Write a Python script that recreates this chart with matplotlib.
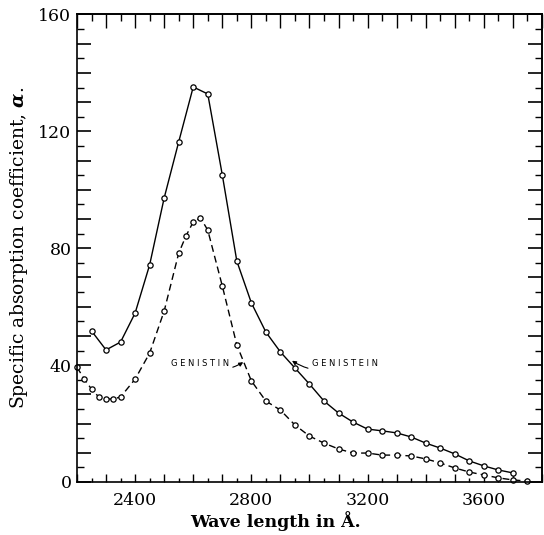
import numpy as np
import matplotlib
matplotlib.use("Agg")
import matplotlib.pyplot as plt
from matplotlib.ticker import FixedLocator, FuncFormatter

# wave length (Angstrom) and specific absorption coefficient
genistein_wl = [2250, 2300, 2350, 2400, 2450, 2500, 2550, 2600, 2650, 2700,
                2750, 2800, 2850, 2900, 2950, 3000, 3050, 3100, 3150, 3200,
                3250, 3300, 3350, 3400, 3450, 3500, 3550, 3600, 3650, 3700]
genistein_a = [51.7, 45.2, 47.9, 57.8, 74.3, 97.2, 116.4, 135.2, 132.8, 105.1,
               75.6, 61.3, 51.3, 44.5, 39.0, 33.5, 27.7, 23.6, 20.5, 18.1,
               17.5, 16.8, 15.4, 13.3, 11.6, 9.6, 7.2, 5.5, 4.1, 3.1]

genistin_wl = [2200, 2225, 2250, 2275, 2300, 2325, 2350, 2400, 2450, 2500,
               2550, 2575, 2600, 2625, 2650, 2700, 2750, 2800, 2850, 2900,
               2950, 3000, 3050, 3100, 3150, 3200, 3250, 3300, 3350, 3400,
               3450, 3500, 3550, 3600, 3650, 3700, 3750]
genistin_a = [39.3, 35.2, 31.8, 29.1, 28.4, 28.4, 29.1, 35.2, 44.1, 58.5,
              78.3, 84.2, 89.0, 90.4, 86.2, 67.1, 46.9, 34.6, 27.7, 24.6,
              19.5, 15.7, 13.3, 11.3, 9.9, 9.9, 9.2, 9.2, 8.9, 7.9,
              6.5, 4.8, 3.4, 2.4, 1.4, 0.7, 0.3]

x_labels = [2400, 2800, 3200, 3600]
y_labels = [0, 40, 80, 120, 160]

plt.rcParams["font.family"] = "DejaVu Serif"
plt.rcParams["mathtext.fontset"] = "dejavuserif"

fig = plt.figure(figsize=(5.44, 5.35), dpi=100)
ax = fig.add_axes([0.1415, 0.0991, 0.8548, 0.8738])

mk = dict(marker="o", ms=3.8, mfc="white", mec="black", mew=0.9, color="black")
ax.plot(genistein_wl, genistein_a, lw=1.0, clip_on=False, **mk)
ax.plot(genistin_wl, genistin_a, lw=1.0, ls=(0, (5, 3)), clip_on=False, **mk)

ax.set_xlim(2200, 3800)
ax.set_ylim(0, 160)

x_major = np.arange(2200, 3801, 100)
x_minor = np.arange(2250, 3800, 100)
y_major = np.arange(0, 161, 10)
y_minor = np.arange(5, 160, 10)

xfmt = FuncFormatter(lambda v, p: f"{int(v)}" if int(v) in x_labels else "")
yfmt = FuncFormatter(lambda v, p: f"{int(v)}" if int(v) in y_labels else "")

ax.xaxis.set_major_locator(FixedLocator(x_major))
ax.xaxis.set_minor_locator(FixedLocator(x_minor))
ax.xaxis.set_major_formatter(xfmt)
ax.yaxis.set_major_locator(FixedLocator(y_major))
ax.yaxis.set_minor_locator(FixedLocator(y_minor))
ax.yaxis.set_major_formatter(yfmt)

ax.tick_params(axis="x", which="major", direction="in", length=6, width=1, pad=7, labelsize=12.5)
ax.tick_params(axis="x", which="minor", direction="in", length=3, width=1)
ax.tick_params(axis="y", which="major", direction="in", length=10, width=1.2, pad=4, labelsize=12.5)
ax.tick_params(axis="y", which="minor", direction="in", length=5, width=1)

top = ax.secondary_xaxis("top")
top.xaxis.set_major_locator(FixedLocator(x_major))
top.xaxis.set_minor_locator(FixedLocator(x_minor))
top.tick_params(which="major", direction="in", length=10, width=1, labeltop=False)
top.tick_params(which="minor", direction="in", length=5, width=1)

right = ax.secondary_yaxis("right")
right.yaxis.set_major_locator(FixedLocator(y_major))
right.yaxis.set_minor_locator(FixedLocator(y_minor))
right.tick_params(which="major", direction="in", length=10, width=1.2, labelright=False)
right.tick_params(which="minor", direction="in", length=5, width=1)

for sp in list(ax.spines.values()) + [top.spines["top"], right.spines["right"]]:
    sp.set_linewidth(1.2)

ax.set_xlabel("Wave length in Å.", fontsize=12.5, fontweight="bold")
ax.xaxis.set_label_coords(0.426, -0.062)
ax.set_ylabel(r"Specific absorption coefficient, $\boldsymbol{\alpha}$.", fontsize=13.5)
ax.yaxis.set_label_coords(-0.100, 0.5)

ann = dict(fontsize=6, family="DejaVu Sans", va="center")
ax.annotate("G E N I S T I N", xy=(2772, 41), xytext=(2722, 40.7), ha="right",
            arrowprops=dict(arrowstyle="-|>", lw=0.8, color="black", mutation_scale=6,
                            shrinkA=1, shrinkB=0, connectionstyle="arc3,rad=0.3"), **ann)
ax.annotate("G E N I S T E I N", xy=(2940, 41.5), xytext=(3009, 40.7), ha="left",
            arrowprops=dict(arrowstyle="-|>", lw=0.8, color="black", mutation_scale=6,
                            shrinkA=1, shrinkB=0, connectionstyle="arc3,rad=-0.3"), **ann)

fig.savefig("out.png", dpi=100)
